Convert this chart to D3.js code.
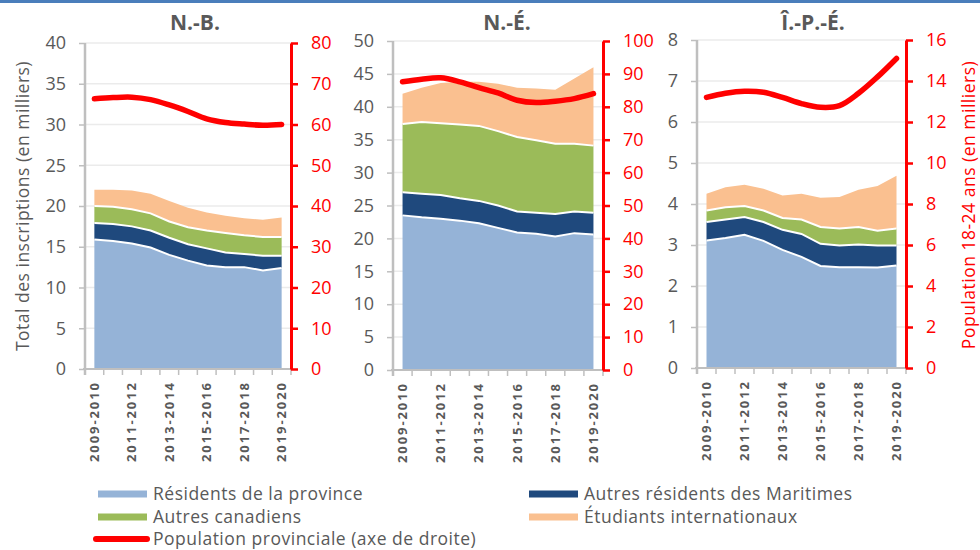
<!DOCTYPE html>
<html>
<head>
<meta charset="utf-8">
<script src="https://cdn.jsdelivr.net/npm/d3@7"></script>
<style>
    body { margin: 0; background: #fff; }
    svg text { font-family: "Open Sans", Lato, sans-serif; }
</style>
</head>
<body>
<svg id="chart" width="980" height="550"></svg>
<script>
/* data */

var years = ['2009-2010', '2010-2011', '2011-2012', '2012-2013', '2013-2014', '2014-2015',
    '2015-2016', '2016-2017', '2017-2018', '2018-2019', '2019-2020'];

var seriesNames = ['Résidents de la province', 'Autres résidents des Maritimes',
    'Autres canadiens', 'Étudiants internationaux'];
var popName = 'Population provinciale (axe de droite)';

var provinces = ['N.-B.', 'N.-É.', 'Î.-P.-É.'];
var enrolMax = [40, 50, 8];
var enrolStep = [5, 5, 1];
var popMax = [80, 100, 16];
var popStep = [10, 10, 2];

// N.-B. (milliers)
var nbResidents = [15.9, 15.7, 15.4, 14.9, 14.0, 13.3, 12.7, 12.5, 12.5, 12.1, 12.4];
var nbMaritimes = [2.0, 2.1, 2.1, 2.1, 2.1, 2.0, 2.1, 1.8, 1.6, 1.8, 1.5];
var nbCanadiens = [2.1, 2.1, 2.1, 2.1, 2.0, 2.1, 2.2, 2.4, 2.3, 2.3, 2.3];
var nbInternationaux = [2.0, 2.1, 2.3, 2.4, 2.5, 2.4, 2.2, 2.1, 2.1, 2.1, 2.4];
var nbPopulation = [66.3, 66.6, 66.7, 66.1, 64.8, 63.2, 61.4, 60.5, 60.1, 59.8, 60.0];

// N.-É.
var neResidents = [23.5, 23.2, 23.0, 22.7, 22.3, 21.6, 20.9, 20.7, 20.3, 20.8, 20.6];
var neMaritimes = [3.5, 3.6, 3.6, 3.4, 3.4, 3.4, 3.2, 3.2, 3.4, 3.3, 3.3];
var neCanadiens = [10.4, 10.9, 10.9, 11.2, 11.4, 11.3, 11.3, 11.0, 10.7, 10.3, 10.2];
var neInternationaux = [4.6, 5.2, 6.1, 6.5, 6.7, 7.2, 7.5, 7.9, 8.2, 9.9, 11.9];
var nePopulation = [87.6, 88.4, 88.8, 87.6, 85.8, 84.2, 82.0, 81.3, 81.7, 82.5, 84.0];

// Î.-P.-É.
var ipeResidents = [3.11, 3.17, 3.25, 3.10, 2.88, 2.71, 2.49, 2.46, 2.46, 2.45, 2.50];
var ipeMaritimes = [0.45, 0.45, 0.43, 0.46, 0.49, 0.56, 0.54, 0.53, 0.55, 0.54, 0.49];
var ipeCanadiens = [0.28, 0.30, 0.27, 0.28, 0.29, 0.35, 0.41, 0.41, 0.43, 0.36, 0.41];
var ipeInternationaux = [0.41, 0.49, 0.52, 0.53, 0.55, 0.63, 0.71, 0.77, 0.91, 1.09, 1.29];
var ipePopulation = [13.2, 13.4, 13.5, 13.45, 13.2, 12.9, 12.72, 12.8, 13.4, 14.2, 15.1];

(function drawChart() {
    'use strict';

    var colors = ['#95b3d7', '#1f497d', '#9bbb59', '#fac090'];
    var popColor = '#ff0000';
    var textGray = '#595959';
    var axisGray = '#bfbfbf';
    var gridGray = '#ebebeb';

    var enrolment = [
        [nbResidents, nbMaritimes, nbCanadiens, nbInternationaux],
        [neResidents, neMaritimes, neCanadiens, neInternationaux],
        [ipeResidents, ipeMaritimes, ipeCanadiens, ipeInternationaux]
    ];
    var population = [nbPopulation, nePopulation, ipePopulation];

    // plot boxes (left axis x, right axis x, top y, bottom y)
    var boxes = [
        { left: 85, right: 291, top: 43, bottom: 369, titleX: 195 },
        { left: 393, right: 603, top: 41, bottom: 370, titleX: 507 },
        { left: 697, right: 906, top: 40, bottom: 368, titleX: 813 }
    ];

    var svg = d3.select('#chart');

    /* frame top line */

    svg.append('rect')
        .attr('x', 0).attr('y', 0)
        .attr('width', 980).attr('height', 3)
        .attr('fill', '#4a7ebb')
    ;

    provinces.forEach(function (name, p) {
        drawPanel(p, name, boxes[p]);
    });

    function drawPanel(p, name, box) {
        var g = svg.append('g').attr('class', 'panel');

        var x = d3.scaleBand()
            .domain(years)
            .range([box.left, box.right])
            .padding(0)
        ;
        var cx = function (d) { return x(d) + x.bandwidth() / 2; };

        var y = d3.scaleLinear().domain([0, enrolMax[p]]).range([box.bottom, box.top]);
        var yPop = d3.scaleLinear().domain([0, popMax[p]]).range([box.bottom, box.top]);

        var yTicks = d3.range(0, enrolMax[p] + enrolStep[p] / 2, enrolStep[p]);
        var popTicks = d3.range(0, popMax[p] + popStep[p] / 2, popStep[p]);

        /* --- grid */

        g.append('g').selectAll('line')
            .data(yTicks.slice(1))
            .enter()
            .append('line')
            .attr('x1', box.left).attr('x2', box.right)
            .attr('y1', y).attr('y2', y)
            .attr('stroke', gridGray)
            .attr('stroke-width', 1.5)
        ;

        /* --- stacked areas */

        var rows = years.map(function (yr, i) {
            var row = { year: yr };
            enrolment[p].forEach(function (s, k) { row[k] = s[i]; });
            return row;
        });

        var stacked = d3.stack().keys([0, 1, 2, 3])(rows);

        var area = d3.area()
            .x(function (d) { return cx(d.data.year); })
            .y0(function (d) { return y(d[0]); })
            .y1(function (d) { return y(d[1]); })
        ;
        var topLine = d3.line()
            .x(function (d) { return cx(d.data.year); })
            .y(function (d) { return y(d[1]); })
        ;

        g.append('g').selectAll('path')
            .data(stacked)
            .enter()
            .append('path')
            .attr('d', area)
            .attr('fill', function (d, k) { return colors[k]; })
        ;

        // white borders between layers
        g.append('g').selectAll('path')
            .data(stacked.slice(0, 3))
            .enter()
            .append('path')
            .attr('d', topLine)
            .attr('fill', 'none')
            .attr('stroke', '#fff')
            .attr('stroke-width', 2)
        ;

        /* --- left axis */

        var leftAxis = g.append('g')
            .attr('transform', 'translate(' + box.left + ',0)')
            .call(d3.axisLeft(y).tickValues(yTicks).tickSize(6).tickPadding(13).tickSizeOuter(0))
        ;
        leftAxis.select('.domain')
            .attr('stroke', axisGray).attr('stroke-width', 2.5)
            .attr('d', 'M0,' + box.top + 'V' + (box.bottom + 6));
        leftAxis.selectAll('.tick line').attr('stroke', axisGray).attr('stroke-width', 1.5);
        leftAxis.selectAll('.tick text')
            .attr('fill', textGray)
            .style('font-size', '18px')
        ;

        /* --- x axis */

        g.append('line')
            .attr('x1', box.left - 2).attr('x2', box.right)
            .attr('y1', box.bottom).attr('y2', box.bottom)
            .attr('stroke', axisGray).attr('stroke-width', 2)
        ;

        g.append('g').selectAll('line')
            .data(d3.range(years.length + 1))
            .enter()
            .append('line')
            .attr('x1', function (i) { return box.left + i * x.step(); })
            .attr('x2', function (i) { return box.left + i * x.step(); })
            .attr('y1', box.bottom).attr('y2', box.bottom + 6)
            .attr('stroke', axisGray).attr('stroke-width', 1.5)
        ;

        g.append('g').selectAll('text')
            .data(years.filter(function (d, i) { return i % 2 === 0; }))
            .enter()
            .append('text')
            .attr('transform', function (d) {
                return 'translate(' + cx(d) + ',' + (box.bottom + 14) + ') rotate(-90)';
            })
            .attr('text-anchor', 'end')
            .attr('dy', '0.35em')
            .attr('textLength', 79)
            .attr('lengthAdjust', 'spacing')
            .attr('fill', textGray)
            .style('font-size', '13px')
            .style('font-weight', 'bold')
            .text(function (d) { return d; })
        ;

        /* --- population line */

        var popLine = d3.line()
            .x(function (d, i) { return cx(years[i]); })
            .y(function (d) { return yPop(d); })
            .curve(d3.curveCatmullRom)
        ;

        g.append('path')
            .datum(population[p])
            .attr('d', popLine)
            .attr('fill', 'none')
            .attr('stroke', popColor)
            .attr('stroke-width', 5.5)
            .attr('stroke-linecap', 'round')
            .attr('stroke-linejoin', 'round')
        ;

        /* --- right axis */

        var rightAxis = g.append('g')
            .attr('transform', 'translate(' + box.right + ',0)')
            .call(d3.axisRight(yPop).tickValues(popTicks).tickSize(7).tickPadding(13).tickSizeOuter(0))
        ;
        rightAxis.select('.domain').attr('stroke', popColor).attr('stroke-width', 3);
        rightAxis.selectAll('.tick line').attr('stroke', popColor).attr('stroke-width', 2.5);
        rightAxis.selectAll('.tick text')
            .attr('fill', popColor)
            .style('font-size', '18px')
        ;

        /* --- title */

        g.append('text')
            .attr('x', box.titleX).attr('y', 30)
            .attr('text-anchor', 'middle')
            .attr('fill', textGray)
            .style('font-size', '21px')
            .style('font-weight', 'bold')
            .text(name)
        ;
    }

    /* axis titles */

    svg.append('text')
        .attr('transform', 'translate(23,206) rotate(-90)')
        .attr('text-anchor', 'middle')
        .attr('dy', '0.35em')
        .attr('fill', textGray)
        .style('font-size', '17.5px')
        .style('letter-spacing', '0.5px')
        .text('Total des inscriptions (en milliers)')
    ;

    svg.append('text')
        .attr('transform', 'translate(969,205) rotate(-90)')
        .attr('text-anchor', 'middle')
        .attr('dy', '0.35em')
        .attr('fill', popColor)
        .style('font-size', '17.5px')
        .style('letter-spacing', '0.5px')
        .text('Population 18-24 ans (en milliers)')
    ;

    /* legend */

    var legendItems = [
        { label: seriesNames[0], color: colors[0], x: 98, y: 494 },
        { label: seriesNames[1], color: colors[1], x: 529, y: 494 },
        { label: seriesNames[2], color: colors[2], x: 98, y: 517 },
        { label: seriesNames[3], color: colors[3], x: 529, y: 517 },
        { label: popName, color: popColor, x: 98, y: 539, line: true }
    ];

    var legend = svg.append('g').attr('class', 'legend')
        .selectAll('g')
        .data(legendItems)
        .enter()
        .append('g')
        .attr('transform', function (d) { return 'translate(' + d.x + ',' + d.y + ')'; })
    ;

    legend.append('line')
        .attr('x1', function (d) { return d.line ? -2 : 0; })
        .attr('x2', 49)
        .attr('stroke', function (d) { return d.color; })
        .attr('stroke-width', function (d) { return d.line ? 6 : 7; })
        .attr('stroke-linecap', function (d) { return d.line ? 'round' : 'butt'; })
    ;

    legend.append('text')
        .attr('x', 55)
        .attr('dy', '0.35em')
        .attr('fill', textGray)
        .style('font-size', '17.5px')
        .style('letter-spacing', '0.5px')
        .text(function (d) { return d.label; })
    ;
})();
</script>
</body>
</html>
